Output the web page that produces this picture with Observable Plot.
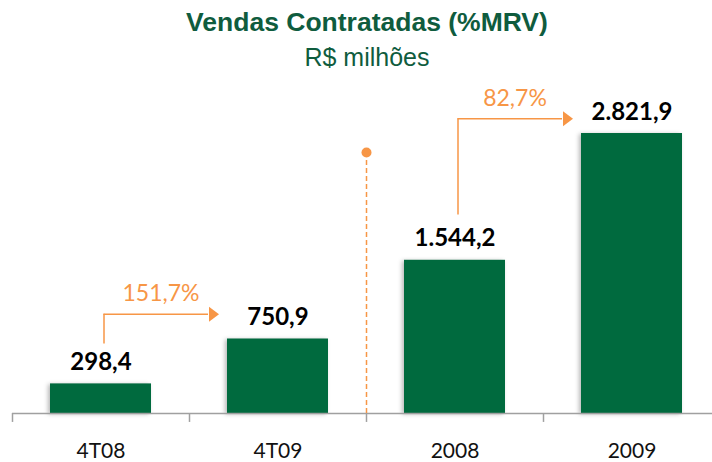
<!DOCTYPE html>
<html>
<head>
<meta charset="utf-8">
<script src="https://cdn.jsdelivr.net/npm/d3@7"></script>
<script src="https://cdn.jsdelivr.net/npm/@observablehq/plot@0.6"></script>
<style>
  body { margin: 0; background: #fff; }
  #wrap { width: 712px; height: 462px; position: relative; overflow: hidden; background: #fff; }
  #head { height: 73px; position: relative; }
  .t { position: absolute; left: 0; width: 712px; box-sizing: border-box; padding-left: 22px;
       text-align: center; font-family: "Liberation Sans", Arial, sans-serif; color: #0F5C3E; white-space: nowrap; }
  #title { top: 7px; font-size: 26.5px; font-weight: bold; line-height: 30px; }
  #subtitle { top: 42px; font-size: 25px; line-height: 30px; }
  #chart svg { display: block; }
  #chart g[aria-label="bar"] rect { filter: drop-shadow(-2px 1px 2px rgba(0,0,0,0.28)); }
</style>
</head>
<body>
<div id="wrap">
  <div id="head">
    <div class="t" id="title">Vendas Contratadas (%MRV)</div>
    <div class="t" id="subtitle">R$ milhões</div>
  </div>
  <div id="chart"></div>
</div>
<script>
// ---- data ----
const categories = ["4T08", "4T09", "2008", "2009"];
const values = [298.4, 750.9, 1544.2, 2821.9];
const valueLabels = ["298,4", "750,9", "1.544,2", "2.821,9"];

const growthFrom = ["4T08", "2008"];
const growthTo = ["4T09", "2009"];
const growthLabels = ["151,7%", "82,7%"];
const arrowBase = [700, 2000];
const arrowTop = [1000, 2970];

const dividerAt = ["2008"];
const dividerTop = [2630];

// ---- build tables ----
const bars = categories.map((c, i) => ({c, v: values[i], label: valueLabels[i]}));
const arrows = growthFrom.map((f, i) => ({from: f, to: growthTo[i], base: arrowBase[i], top: arrowTop[i], label: growthLabels[i]}));
const divider = dividerAt.map((c, i) => ({c, top: dividerTop[i]}));

const green = "#006A3E";
const orange = "#F79646";
const gray = "#A0A0A0";
const arrowHead = {draw(ctx) { ctx.moveTo(5, 0); ctx.lineTo(-5, -7.5); ctx.lineTo(-5, 7.5); ctx.closePath(); }};

const chart = Plot.plot({
  width: 712,
  height: 389,
  marginLeft: 12,
  marginRight: 0,
  marginTop: 42,
  marginBottom: 49,
  style: {fontFamily: "Lato, 'Open Sans', sans-serif", background: "#fff"},
  x: {domain: categories, range: [12, 720], paddingInner: 0.43, paddingOuter: 0.215, axis: null},
  y: {domain: [0, 3000], range: [340, 42.34], axis: null},
  marks: [
    Plot.barY(bars, {x: "c", y: "v", fill: green}),
    Plot.ruleY([0], {stroke: gray, strokeWidth: 1.5}),
    Plot.ruleX(categories, {x: d => d, y1: 0, y2: -90, dx: -88.5, stroke: gray, strokeWidth: 1.5}),
    // divider
    Plot.ruleX(divider, {x: "c", y1: 0, y2: "top", dx: -88.5, stroke: orange, strokeWidth: 1.5, strokeDasharray: "5,3"}),
    Plot.dot(divider, {x: "c", y: "top", dx: -88.5, r: 5, fill: orange, stroke: "none"}),
    // growth arrows
    Plot.ruleX(arrows, {x: "from", y1: "base", y2: "top", dx: 3, stroke: orange, strokeWidth: 1.5}),
    Plot.ruleY(arrows, {y: "top", x1: "from", x2: "to", insetLeft: 53.5, insetRight: 120, stroke: orange, strokeWidth: 1.5}),
    Plot.dot(arrows, {x: "to", y: "top", dx: -64, symbol: arrowHead, fill: orange, stroke: "none"}),
    Plot.text(arrows, {x: "from", y: "top", text: "label", dx: 60, dy: -13, lineAnchor: "bottom",
      fontSize: 23, fill: orange, fontFamily: "Lato"}),
    // value labels
    Plot.text(bars, {x: "c", y: "v", text: "label", dy: -14, lineAnchor: "bottom",
      fontSize: 24, fontWeight: "bold", fill: "#000", fontFamily: "Lato"}),
    // category labels
    Plot.text(categories, {x: d => d, y: 0, text: d => d, dy: 44, lineAnchor: "bottom",
      fontSize: 21, fill: "#111", fontFamily: "Lato"})
  ]
});
document.getElementById("chart").appendChild(chart);
</script>
</body>
</html>
